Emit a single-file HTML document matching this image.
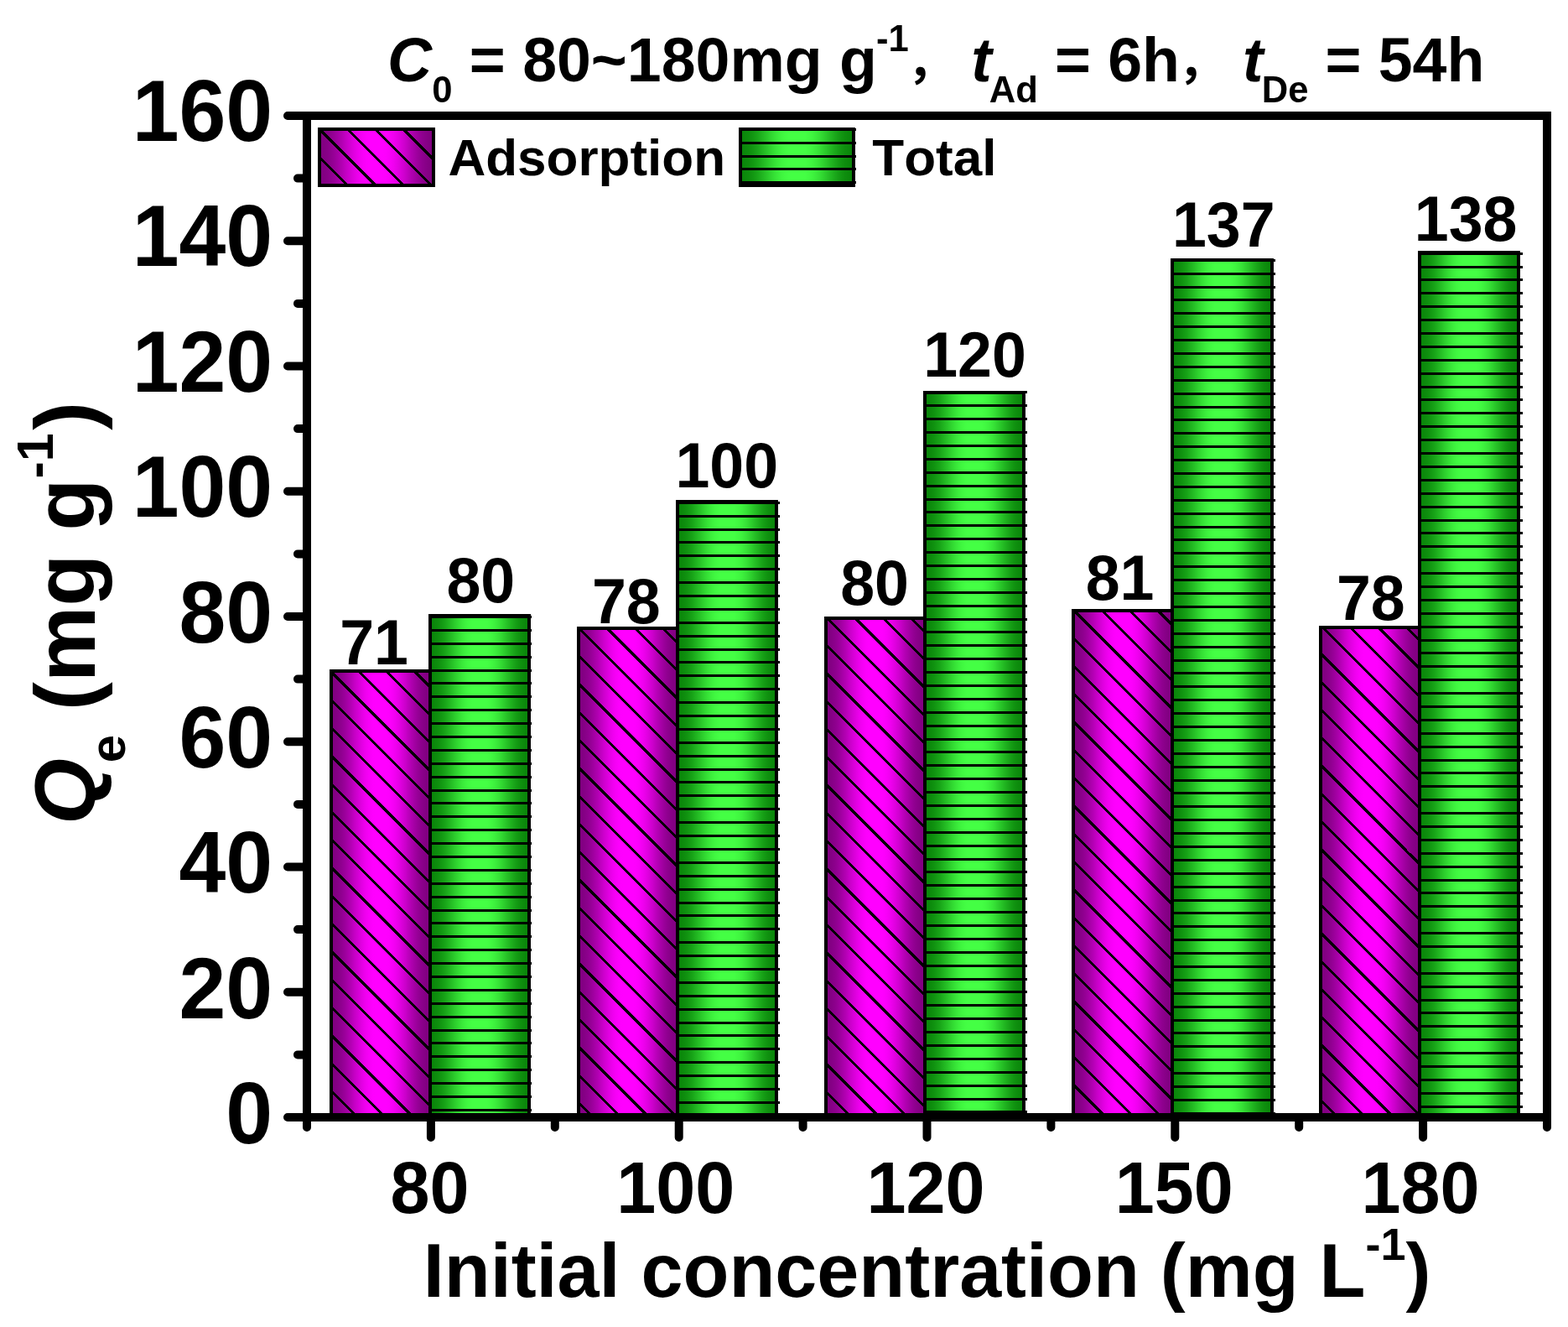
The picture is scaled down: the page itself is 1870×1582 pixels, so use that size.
<!DOCTYPE html>
<html lang="en">
<head>
<meta charset="utf-8">
<title>Adsorption chart</title>
<style>
html,body{margin:0;padding:0;background:#fff;}
body{width:1870px;height:1582px;overflow:hidden;}
svg{display:block;}
text{font-family:"Liberation Sans", "Noto Sans CJK SC", sans-serif;font-weight:bold;fill:#000;font-kerning:none;}
.it{font-style:italic;}
</style>
</head>
<body>
<svg width="1870" height="1582" viewBox="0 0 1870 1582">
<defs>
<linearGradient id="gm" x1="0" y1="0" x2="1" y2="0">
<stop offset="0.000" stop-color="#800080"/><stop offset="0.025" stop-color="#810081"/><stop offset="0.050" stop-color="#840084"/><stop offset="0.075" stop-color="#890089"/><stop offset="0.100" stop-color="#8f008f"/><stop offset="0.125" stop-color="#970097"/><stop offset="0.150" stop-color="#a000a0"/><stop offset="0.175" stop-color="#aa00aa"/><stop offset="0.200" stop-color="#b400b4"/><stop offset="0.225" stop-color="#c000c0"/><stop offset="0.250" stop-color="#cb00cb"/><stop offset="0.275" stop-color="#d500d5"/><stop offset="0.300" stop-color="#df00df"/><stop offset="0.325" stop-color="#e800e8"/><stop offset="0.350" stop-color="#f000f0"/><stop offset="0.375" stop-color="#f600f6"/><stop offset="0.400" stop-color="#fb00fb"/><stop offset="0.425" stop-color="#fe00fe"/><stop offset="0.450" stop-color="#ff00ff"/><stop offset="0.475" stop-color="#ff00ff"/><stop offset="0.500" stop-color="#ff00ff"/><stop offset="0.525" stop-color="#ff00ff"/><stop offset="0.550" stop-color="#ff00ff"/><stop offset="0.575" stop-color="#fe00fe"/><stop offset="0.600" stop-color="#fb00fb"/><stop offset="0.625" stop-color="#f600f6"/><stop offset="0.650" stop-color="#f000f0"/><stop offset="0.675" stop-color="#e800e8"/><stop offset="0.700" stop-color="#df00df"/><stop offset="0.725" stop-color="#d500d5"/><stop offset="0.750" stop-color="#cb00cb"/><stop offset="0.775" stop-color="#bf00bf"/><stop offset="0.800" stop-color="#b400b4"/><stop offset="0.825" stop-color="#aa00aa"/><stop offset="0.850" stop-color="#a000a0"/><stop offset="0.875" stop-color="#970097"/><stop offset="0.900" stop-color="#8f008f"/><stop offset="0.925" stop-color="#890089"/><stop offset="0.950" stop-color="#840084"/><stop offset="0.975" stop-color="#810081"/><stop offset="1.000" stop-color="#800080"/>
</linearGradient>
<linearGradient id="gg" x1="0" y1="0" x2="1" y2="0">
<stop offset="0.000" stop-color="#0a860a"/><stop offset="0.025" stop-color="#0a870a"/><stop offset="0.050" stop-color="#0c8a0c"/><stop offset="0.075" stop-color="#0e8e0e"/><stop offset="0.100" stop-color="#119411"/><stop offset="0.125" stop-color="#149c14"/><stop offset="0.150" stop-color="#18a418"/><stop offset="0.175" stop-color="#1dae1d"/><stop offset="0.200" stop-color="#22b822"/><stop offset="0.225" stop-color="#27c227"/><stop offset="0.250" stop-color="#2ccd2c"/><stop offset="0.275" stop-color="#31d731"/><stop offset="0.300" stop-color="#35e135"/><stop offset="0.325" stop-color="#3ae93a"/><stop offset="0.350" stop-color="#3df13d"/><stop offset="0.375" stop-color="#40f740"/><stop offset="0.400" stop-color="#42fb42"/><stop offset="0.425" stop-color="#44fe44"/><stop offset="0.450" stop-color="#44ff44"/><stop offset="0.475" stop-color="#44ff44"/><stop offset="0.500" stop-color="#44ff44"/><stop offset="0.525" stop-color="#44ff44"/><stop offset="0.550" stop-color="#44ff44"/><stop offset="0.575" stop-color="#44fe44"/><stop offset="0.600" stop-color="#42fb42"/><stop offset="0.625" stop-color="#40f740"/><stop offset="0.650" stop-color="#3df13d"/><stop offset="0.675" stop-color="#3ae93a"/><stop offset="0.700" stop-color="#36e136"/><stop offset="0.725" stop-color="#31d731"/><stop offset="0.750" stop-color="#2ccd2c"/><stop offset="0.775" stop-color="#27c227"/><stop offset="0.800" stop-color="#22b822"/><stop offset="0.825" stop-color="#1dae1d"/><stop offset="0.850" stop-color="#19a419"/><stop offset="0.875" stop-color="#149c14"/><stop offset="0.900" stop-color="#119411"/><stop offset="0.925" stop-color="#0e8e0e"/><stop offset="0.950" stop-color="#0c8a0c"/><stop offset="0.975" stop-color="#0a870a"/><stop offset="1.000" stop-color="#0a860a"/>
</linearGradient>
</defs>
<rect x="0" y="0" width="1870" height="1582" fill="#fff"/>
<g id="bars" shape-rendering="crispEdges">
<clipPath id="c1"><rect x="395" y="800" width="118" height="532"/></clipPath>
<rect x="395" y="800" width="118" height="532" fill="url(#gm)"/>
<path d="M-172.10 800.00L359.90 1332.00M-138.80 800.00L393.20 1332.00M-105.50 800.00L426.50 1332.00M-72.20 800.00L459.80 1332.00M-38.90 800.00L493.10 1332.00M-5.60 800.00L526.40 1332.00M27.70 800.00L559.70 1332.00M61.00 800.00L593.00 1332.00M94.30 800.00L626.30 1332.00M127.60 800.00L659.60 1332.00M160.90 800.00L692.90 1332.00M194.20 800.00L726.20 1332.00M227.50 800.00L759.50 1332.00M260.80 800.00L792.80 1332.00M294.10 800.00L826.10 1332.00M327.40 800.00L859.40 1332.00M360.70 800.00L892.70 1332.00M394.00 800.00L926.00 1332.00M427.30 800.00L959.30 1332.00M460.60 800.00L992.60 1332.00M493.90 800.00L1025.90 1332.00" stroke="#000" stroke-width="3.0" fill="none" clip-path="url(#c1)"/>
<rect x="395" y="800" width="118" height="532" fill="none" stroke="#000" stroke-width="4"/>
<rect x="513" y="734" width="118" height="598" fill="url(#gg)"/>
<path d="M513.00 735.50H633.50M513.00 751.39H633.50M513.00 767.28H633.50M513.00 783.17H633.50M513.00 799.06H633.50M513.00 814.95H633.50M513.00 830.84H633.50M513.00 846.73H633.50M513.00 862.62H633.50M513.00 878.51H633.50M513.00 894.40H633.50M513.00 910.29H633.50M513.00 926.18H633.50M513.00 942.07H633.50M513.00 957.96H633.50M513.00 973.85H633.50M513.00 989.74H633.50M513.00 1005.63H633.50M513.00 1021.52H633.50M513.00 1037.41H633.50M513.00 1053.30H633.50M513.00 1069.19H633.50M513.00 1085.08H633.50M513.00 1100.97H633.50M513.00 1116.86H633.50M513.00 1132.75H633.50M513.00 1148.64H633.50M513.00 1164.53H633.50M513.00 1180.42H633.50M513.00 1196.31H633.50M513.00 1212.20H633.50M513.00 1228.09H633.50M513.00 1243.98H633.50M513.00 1259.87H633.50M513.00 1275.76H633.50M513.00 1291.65H633.50M513.00 1307.54H633.50M513.00 1323.43H633.50" stroke="#000" stroke-width="3.0" fill="none"/>
<rect x="513" y="734" width="118" height="598" fill="none" stroke="#000" stroke-width="4"/>
<clipPath id="c2"><rect x="690" y="749" width="118" height="583"/></clipPath>
<rect x="690" y="749" width="118" height="583" fill="url(#gm)"/>
<path d="M57.90 749.00L640.90 1332.00M91.20 749.00L674.20 1332.00M124.50 749.00L707.50 1332.00M157.80 749.00L740.80 1332.00M191.10 749.00L774.10 1332.00M224.40 749.00L807.40 1332.00M257.70 749.00L840.70 1332.00M291.00 749.00L874.00 1332.00M324.30 749.00L907.30 1332.00M357.60 749.00L940.60 1332.00M390.90 749.00L973.90 1332.00M424.20 749.00L1007.20 1332.00M457.50 749.00L1040.50 1332.00M490.80 749.00L1073.80 1332.00M524.10 749.00L1107.10 1332.00M557.40 749.00L1140.40 1332.00M590.70 749.00L1173.70 1332.00M624.00 749.00L1207.00 1332.00M657.30 749.00L1240.30 1332.00M690.60 749.00L1273.60 1332.00M723.90 749.00L1306.90 1332.00M757.20 749.00L1340.20 1332.00M790.50 749.00L1373.50 1332.00" stroke="#000" stroke-width="3.0" fill="none" clip-path="url(#c2)"/>
<rect x="690" y="749" width="118" height="583" fill="none" stroke="#000" stroke-width="4"/>
<rect x="808" y="597.7" width="118" height="734.3" fill="url(#gg)"/>
<path d="M808.00 599.30H929.50M808.00 615.19H929.50M808.00 631.08H929.50M808.00 646.97H929.50M808.00 662.86H929.50M808.00 678.75H929.50M808.00 694.64H929.50M808.00 710.53H929.50M808.00 726.42H929.50M808.00 742.31H929.50M808.00 758.20H929.50M808.00 774.09H929.50M808.00 789.98H929.50M808.00 805.87H929.50M808.00 821.76H929.50M808.00 837.65H929.50M808.00 853.54H929.50M808.00 869.43H929.50M808.00 885.32H929.50M808.00 901.21H929.50M808.00 917.10H929.50M808.00 932.99H929.50M808.00 948.88H929.50M808.00 964.77H929.50M808.00 980.66H929.50M808.00 996.55H929.50M808.00 1012.44H929.50M808.00 1028.33H929.50M808.00 1044.22H929.50M808.00 1060.11H929.50M808.00 1076.00H929.50M808.00 1091.89H929.50M808.00 1107.78H929.50M808.00 1123.67H929.50M808.00 1139.56H929.50M808.00 1155.45H929.50M808.00 1171.34H929.50M808.00 1187.23H929.50M808.00 1203.12H929.50M808.00 1219.01H929.50M808.00 1234.90H929.50M808.00 1250.79H929.50M808.00 1266.68H929.50M808.00 1282.57H929.50M808.00 1298.46H929.50M808.00 1314.35H929.50M808.00 1330.24H929.50" stroke="#000" stroke-width="3.0" fill="none"/>
<rect x="808" y="597.7" width="118" height="734.3" fill="none" stroke="#000" stroke-width="4"/>
<clipPath id="c3"><rect x="985" y="737.3" width="118" height="594.7"/></clipPath>
<rect x="985" y="737.3" width="118" height="594.7" fill="url(#gm)"/>
<path d="M354.30 737.30L949.00 1332.00M387.60 737.30L982.30 1332.00M420.90 737.30L1015.60 1332.00M454.20 737.30L1048.90 1332.00M487.50 737.30L1082.20 1332.00M520.80 737.30L1115.50 1332.00M554.10 737.30L1148.80 1332.00M587.40 737.30L1182.10 1332.00M620.70 737.30L1215.40 1332.00M654.00 737.30L1248.70 1332.00M687.30 737.30L1282.00 1332.00M720.60 737.30L1315.30 1332.00M753.90 737.30L1348.60 1332.00M787.20 737.30L1381.90 1332.00M820.50 737.30L1415.20 1332.00M853.80 737.30L1448.50 1332.00M887.10 737.30L1481.80 1332.00M920.40 737.30L1515.10 1332.00M953.70 737.30L1548.40 1332.00M987.00 737.30L1581.70 1332.00M1020.30 737.30L1615.00 1332.00M1053.60 737.30L1648.30 1332.00M1086.90 737.30L1681.60 1332.00" stroke="#000" stroke-width="3.0" fill="none" clip-path="url(#c3)"/>
<rect x="985" y="737.3" width="118" height="594.7" fill="none" stroke="#000" stroke-width="4"/>
<rect x="1103" y="467.5" width="118" height="864.5" fill="url(#gg)"/>
<path d="M1103.00 467.90H1224.50M1103.00 483.79H1224.50M1103.00 499.68H1224.50M1103.00 515.57H1224.50M1103.00 531.46H1224.50M1103.00 547.35H1224.50M1103.00 563.24H1224.50M1103.00 579.13H1224.50M1103.00 595.02H1224.50M1103.00 610.91H1224.50M1103.00 626.80H1224.50M1103.00 642.69H1224.50M1103.00 658.58H1224.50M1103.00 674.47H1224.50M1103.00 690.36H1224.50M1103.00 706.25H1224.50M1103.00 722.14H1224.50M1103.00 738.03H1224.50M1103.00 753.92H1224.50M1103.00 769.81H1224.50M1103.00 785.70H1224.50M1103.00 801.59H1224.50M1103.00 817.48H1224.50M1103.00 833.37H1224.50M1103.00 849.26H1224.50M1103.00 865.15H1224.50M1103.00 881.04H1224.50M1103.00 896.93H1224.50M1103.00 912.82H1224.50M1103.00 928.71H1224.50M1103.00 944.60H1224.50M1103.00 960.49H1224.50M1103.00 976.38H1224.50M1103.00 992.27H1224.50M1103.00 1008.16H1224.50M1103.00 1024.05H1224.50M1103.00 1039.94H1224.50M1103.00 1055.83H1224.50M1103.00 1071.72H1224.50M1103.00 1087.61H1224.50M1103.00 1103.50H1224.50M1103.00 1119.39H1224.50M1103.00 1135.28H1224.50M1103.00 1151.17H1224.50M1103.00 1167.06H1224.50M1103.00 1182.95H1224.50M1103.00 1198.84H1224.50M1103.00 1214.73H1224.50M1103.00 1230.62H1224.50M1103.00 1246.51H1224.50M1103.00 1262.40H1224.50M1103.00 1278.29H1224.50M1103.00 1294.18H1224.50M1103.00 1310.07H1224.50M1103.00 1325.96H1224.50" stroke="#000" stroke-width="3.0" fill="none"/>
<rect x="1103" y="467.5" width="118" height="864.5" fill="none" stroke="#000" stroke-width="4"/>
<clipPath id="c4"><rect x="1280" y="728.1" width="118" height="603.9"/></clipPath>
<rect x="1280" y="728.1" width="118" height="603.9" fill="url(#gm)"/>
<path d="M615.20 728.10L1219.10 1332.00M648.50 728.10L1252.40 1332.00M681.80 728.10L1285.70 1332.00M715.10 728.10L1319.00 1332.00M748.40 728.10L1352.30 1332.00M781.70 728.10L1385.60 1332.00M815.00 728.10L1418.90 1332.00M848.30 728.10L1452.20 1332.00M881.60 728.10L1485.50 1332.00M914.90 728.10L1518.80 1332.00M948.20 728.10L1552.10 1332.00M981.50 728.10L1585.40 1332.00M1014.80 728.10L1618.70 1332.00M1048.10 728.10L1652.00 1332.00M1081.40 728.10L1685.30 1332.00M1114.70 728.10L1718.60 1332.00M1148.00 728.10L1751.90 1332.00M1181.30 728.10L1785.20 1332.00M1214.60 728.10L1818.50 1332.00M1247.90 728.10L1851.80 1332.00M1281.20 728.10L1885.10 1332.00M1314.50 728.10L1918.40 1332.00M1347.80 728.10L1951.70 1332.00M1381.10 728.10L1985.00 1332.00" stroke="#000" stroke-width="3.0" fill="none" clip-path="url(#c4)"/>
<rect x="1280" y="728.1" width="118" height="603.9" fill="none" stroke="#000" stroke-width="4"/>
<rect x="1398" y="309.9" width="119" height="1022.1" fill="url(#gg)"/>
<path d="M1398.00 310.30H1520.50M1398.00 326.19H1520.50M1398.00 342.08H1520.50M1398.00 357.97H1520.50M1398.00 373.86H1520.50M1398.00 389.75H1520.50M1398.00 405.64H1520.50M1398.00 421.53H1520.50M1398.00 437.42H1520.50M1398.00 453.31H1520.50M1398.00 469.20H1520.50M1398.00 485.09H1520.50M1398.00 500.98H1520.50M1398.00 516.87H1520.50M1398.00 532.76H1520.50M1398.00 548.65H1520.50M1398.00 564.54H1520.50M1398.00 580.43H1520.50M1398.00 596.32H1520.50M1398.00 612.21H1520.50M1398.00 628.10H1520.50M1398.00 643.99H1520.50M1398.00 659.88H1520.50M1398.00 675.77H1520.50M1398.00 691.66H1520.50M1398.00 707.55H1520.50M1398.00 723.44H1520.50M1398.00 739.33H1520.50M1398.00 755.22H1520.50M1398.00 771.11H1520.50M1398.00 787.00H1520.50M1398.00 802.89H1520.50M1398.00 818.78H1520.50M1398.00 834.67H1520.50M1398.00 850.56H1520.50M1398.00 866.45H1520.50M1398.00 882.34H1520.50M1398.00 898.23H1520.50M1398.00 914.12H1520.50M1398.00 930.01H1520.50M1398.00 945.90H1520.50M1398.00 961.79H1520.50M1398.00 977.68H1520.50M1398.00 993.57H1520.50M1398.00 1009.46H1520.50M1398.00 1025.35H1520.50M1398.00 1041.24H1520.50M1398.00 1057.13H1520.50M1398.00 1073.02H1520.50M1398.00 1088.91H1520.50M1398.00 1104.80H1520.50M1398.00 1120.69H1520.50M1398.00 1136.58H1520.50M1398.00 1152.47H1520.50M1398.00 1168.36H1520.50M1398.00 1184.25H1520.50M1398.00 1200.14H1520.50M1398.00 1216.03H1520.50M1398.00 1231.92H1520.50M1398.00 1247.81H1520.50M1398.00 1263.70H1520.50M1398.00 1279.59H1520.50M1398.00 1295.48H1520.50M1398.00 1311.37H1520.50M1398.00 1327.26H1520.50" stroke="#000" stroke-width="3.0" fill="none"/>
<rect x="1398" y="309.9" width="119" height="1022.1" fill="none" stroke="#000" stroke-width="4"/>
<clipPath id="c5"><rect x="1575" y="748" width="118" height="584"/></clipPath>
<rect x="1575" y="748" width="118" height="584" fill="url(#gm)"/>
<path d="M944.70 748.00L1528.70 1332.00M978.00 748.00L1562.00 1332.00M1011.30 748.00L1595.30 1332.00M1044.60 748.00L1628.60 1332.00M1077.90 748.00L1661.90 1332.00M1111.20 748.00L1695.20 1332.00M1144.50 748.00L1728.50 1332.00M1177.80 748.00L1761.80 1332.00M1211.10 748.00L1795.10 1332.00M1244.40 748.00L1828.40 1332.00M1277.70 748.00L1861.70 1332.00M1311.00 748.00L1895.00 1332.00M1344.30 748.00L1928.30 1332.00M1377.60 748.00L1961.60 1332.00M1410.90 748.00L1994.90 1332.00M1444.20 748.00L2028.20 1332.00M1477.50 748.00L2061.50 1332.00M1510.80 748.00L2094.80 1332.00M1544.10 748.00L2128.10 1332.00M1577.40 748.00L2161.40 1332.00M1610.70 748.00L2194.70 1332.00M1644.00 748.00L2228.00 1332.00M1677.30 748.00L2261.30 1332.00" stroke="#000" stroke-width="3.0" fill="none" clip-path="url(#c5)"/>
<rect x="1575" y="748" width="118" height="584" fill="none" stroke="#000" stroke-width="4"/>
<rect x="1693" y="301" width="118" height="1031" fill="url(#gg)"/>
<path d="M1693.00 302.20H1816.00M1693.00 318.09H1816.00M1693.00 333.98H1816.00M1693.00 349.87H1816.00M1693.00 365.76H1816.00M1693.00 381.65H1816.00M1693.00 397.54H1816.00M1693.00 413.43H1816.00M1693.00 429.32H1816.00M1693.00 445.21H1816.00M1693.00 461.10H1816.00M1693.00 476.99H1816.00M1693.00 492.88H1816.00M1693.00 508.77H1816.00M1693.00 524.66H1816.00M1693.00 540.55H1816.00M1693.00 556.44H1816.00M1693.00 572.33H1816.00M1693.00 588.22H1816.00M1693.00 604.11H1816.00M1693.00 620.00H1816.00M1693.00 635.89H1816.00M1693.00 651.78H1816.00M1693.00 667.67H1816.00M1693.00 683.56H1816.00M1693.00 699.45H1816.00M1693.00 715.34H1816.00M1693.00 731.23H1816.00M1693.00 747.12H1816.00M1693.00 763.01H1816.00M1693.00 778.90H1816.00M1693.00 794.79H1816.00M1693.00 810.68H1816.00M1693.00 826.57H1816.00M1693.00 842.46H1816.00M1693.00 858.35H1816.00M1693.00 874.24H1816.00M1693.00 890.13H1816.00M1693.00 906.02H1816.00M1693.00 921.91H1816.00M1693.00 937.80H1816.00M1693.00 953.69H1816.00M1693.00 969.58H1816.00M1693.00 985.47H1816.00M1693.00 1001.36H1816.00M1693.00 1017.25H1816.00M1693.00 1033.14H1816.00M1693.00 1049.03H1816.00M1693.00 1064.92H1816.00M1693.00 1080.81H1816.00M1693.00 1096.70H1816.00M1693.00 1112.59H1816.00M1693.00 1128.48H1816.00M1693.00 1144.37H1816.00M1693.00 1160.26H1816.00M1693.00 1176.15H1816.00M1693.00 1192.04H1816.00M1693.00 1207.93H1816.00M1693.00 1223.82H1816.00M1693.00 1239.71H1816.00M1693.00 1255.60H1816.00M1693.00 1271.49H1816.00M1693.00 1287.38H1816.00M1693.00 1303.27H1816.00M1693.00 1319.16H1816.00" stroke="#000" stroke-width="3.0" fill="none"/>
<rect x="1693" y="301" width="118" height="1031" fill="none" stroke="#000" stroke-width="4"/>
</g>
<g id="legend" shape-rendering="crispEdges">
<clipPath id="c6"><rect x="381" y="154" width="136" height="67"/></clipPath>
<rect x="381" y="154" width="136" height="67" fill="url(#gm)"/>
<path d="M247.80 154.00L314.80 221.00M281.10 154.00L348.10 221.00M314.40 154.00L381.40 221.00M347.70 154.00L414.70 221.00M381.00 154.00L448.00 221.00M414.30 154.00L481.30 221.00M447.60 154.00L514.60 221.00M480.90 154.00L547.90 221.00M514.20 154.00L581.20 221.00" stroke="#000" stroke-width="3.0" fill="none" clip-path="url(#c6)"/>
<rect x="381" y="154" width="136" height="67" fill="none" stroke="#000" stroke-width="4"/>
<rect x="883" y="154" width="134.60000000000002" height="67" fill="url(#gg)"/>
<path d="M883.00 154.30H1020.60M883.00 170.19H1020.60M883.00 186.08H1020.60M883.00 201.97H1020.60M883.00 217.86H1020.60" stroke="#000" stroke-width="3.0" fill="none"/>
<rect x="883" y="154" width="134.60000000000002" height="67" fill="none" stroke="#000" stroke-width="4"/>
<text transform="translate(534.4 209.1) scale(1 1.0)" font-size="62" text-anchor="start">Adsorption</text>
<text transform="translate(1040.3 209.1) scale(1 1.0)" font-size="62" text-anchor="start">Total</text>
</g>
<g id="axes" stroke="#000" stroke-width="10" fill="none" stroke-linecap="round">
<path d="M366 1332.00H343M366 1257.38H355M366 1182.75H343M366 1108.12H355M366 1033.50H343M366 958.88H355M366 884.25H343M366 809.62H355M366 735.00H343M366 660.38H355M366 585.75H343M366 511.12H355M366 436.50H343M366 361.88H355M366 287.25H343M366 212.62H355M366 138.00H343M366.00 1332V1344M513.90 1332V1356M661.80 1332V1344M809.70 1332V1356M957.60 1332V1344M1105.50 1332V1356M1253.40 1332V1344M1401.30 1332V1356M1549.20 1332V1344M1697.10 1332V1356M1845.00 1332V1344"/>
<rect x="366" y="138" width="1479" height="1194" stroke-linecap="butt" stroke-linejoin="miter"/>
</g>
<g id="ylabels">
<text transform="translate(325.2 1363.0) scale(1 1.04)" font-size="100.4" text-anchor="end">0</text>
<text transform="translate(325.2 1213.64) scale(1 1.04)" font-size="100.4" text-anchor="end">20</text>
<text transform="translate(325.2 1064.28) scale(1 1.04)" font-size="100.4" text-anchor="end">40</text>
<text transform="translate(325.2 914.91) scale(1 1.04)" font-size="100.4" text-anchor="end">60</text>
<text transform="translate(325.2 765.55) scale(1 1.04)" font-size="100.4" text-anchor="end">80</text>
<text transform="translate(325.2 616.19) scale(1 1.04)" font-size="100.4" text-anchor="end">100</text>
<text transform="translate(325.2 466.82) scale(1 1.04)" font-size="100.4" text-anchor="end">120</text>
<text transform="translate(325.2 317.46) scale(1 1.04)" font-size="100.4" text-anchor="end">140</text>
<text transform="translate(325.2 168.1) scale(1 1.04)" font-size="100.4" text-anchor="end">160</text>
</g>
<g id="xlabels">
<text transform="translate(512.6 1446.3) scale(1 1.04)" font-size="84.5" text-anchor="middle">80</text>
<text transform="translate(805.7 1446.3) scale(1 1.04)" font-size="84.5" text-anchor="middle">100</text>
<text transform="translate(1104 1446.3) scale(1 1.04)" font-size="84.5" text-anchor="middle">120</text>
<text transform="translate(1400.2 1446.3) scale(1 1.04)" font-size="84.5" text-anchor="middle">150</text>
<text transform="translate(1694 1446.3) scale(1 1.04)" font-size="84.5" text-anchor="middle">180</text>
</g>
<text transform="translate(504.8 1546) scale(1 1.0)" font-size="89.9" text-anchor="start">Initial concentration (mg L<tspan font-size="54" dy="-44">-1</tspan><tspan dy="44">)</tspan></text>
<text transform="translate(113.2 1000) rotate(-90) scale(1 1.0)" font-size="101.5"><tspan x="17.10" y="0.00" class="it">Q</tspan><tspan x="90.70" y="35.40" font-size="60">e</tspan><tspan x="124.90" y="0.00"> (mg g</tspan><tspan x="429.50" y="-50.10" font-size="61">-1</tspan><tspan x="487.20" y="0.00">)</tspan></text>
<text transform="translate(0 97.3) scale(1 1.02)" font-size="73.5"><tspan x="462.1" y="0.00" class="it">C</tspan><tspan x="515.2" y="23.82" font-size="43.6">0</tspan><tspan x="539.4" y="0.00"> = 80~180mg g</tspan><tspan x="1045.0" y="-35.59" font-size="43.6">-1</tspan><tspan x="1081.9" y="-4.22" font-size="55.7">，</tspan><tspan x="1158.2" y="0.00" class="it">t</tspan><tspan x="1179.7" y="23.82" font-size="43.6">Ad</tspan><tspan x="1237.5" y="0.00"> = 6h</tspan><tspan x="1405.0" y="-4.22" font-size="55.7">，</tspan><tspan x="1481.9" y="0.00" class="it">t</tspan><tspan x="1504.8" y="23.82" font-size="43.6">De</tspan><tspan x="1560.0" y="0.00"> = 54h</tspan></text>
<g id="vlabels">
<text transform="translate(446.1 791.9) scale(1 1.04)" font-size="73.5" text-anchor="middle">71</text>
<text transform="translate(573.25 718.3) scale(1 1.04)" font-size="73.5" text-anchor="middle">80</text>
<text transform="translate(746.8 742.7) scale(1 1.04)" font-size="73.5" text-anchor="middle">78</text>
<text transform="translate(866.7 580.6) scale(1 1.04)" font-size="73.5" text-anchor="middle">100</text>
<text transform="translate(1043 721.2) scale(1 1.04)" font-size="73.5" text-anchor="middle">80</text>
<text transform="translate(1162.5 448.5) scale(1 1.04)" font-size="73.5" text-anchor="middle">120</text>
<text transform="translate(1335.5 714.9) scale(1 1.04)" font-size="73.5" text-anchor="middle">81</text>
<text transform="translate(1459.2 293.7) scale(1 1.04)" font-size="73.5" text-anchor="middle">137</text>
<text transform="translate(1634.8 739.0) scale(1 1.04)" font-size="73.5" text-anchor="middle">78</text>
<text transform="translate(1748.1 287.3) scale(1 1.04)" font-size="73.5" text-anchor="middle">138</text>
</g>
</svg>
</body>
</html>
